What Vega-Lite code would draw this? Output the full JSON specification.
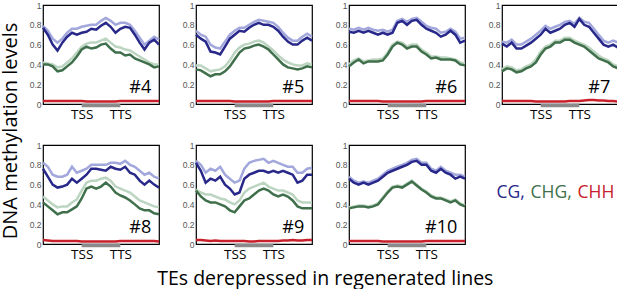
{
"$schema":"https://vega.github.io/schema/vega-lite/v6.json",
"padding":{"left":0,"top":0,"right":0,"bottom":0},
"background":"white",
"title":{"text":"TEs derepressed in regenerated lines","orient":"bottom","anchor":"middle","fontSize":19.5,"font":"Open Sans","fontWeight":"normal","offset":9,"dx":13,"color":"black"},
"data":{"values":[
{"p":"#4","x":0,"CG":0.77,"CGl":0.79,"CHG":0.40,"CHGl":0.42,"CHH":0.03},
{"p":"#4","x":2.5,"CG":0.70,"CGl":0.74,"CHG":0.40,"CHGl":0.41,"CHH":0.03},
{"p":"#4","x":5,"CG":0.60,"CGl":0.66,"CHG":0.38,"CHGl":0.40,"CHH":0.03},
{"p":"#4","x":7.5,"CG":0.54,"CGl":0.62,"CHG":0.33,"CHGl":0.37,"CHH":0.03},
{"p":"#4","x":10,"CG":0.62,"CGl":0.66,"CHG":0.34,"CHGl":0.38,"CHH":0.03},
{"p":"#4","x":12.5,"CG":0.68,"CGl":0.72,"CHG":0.38,"CHGl":0.42,"CHH":0.03},
{"p":"#4","x":15,"CG":0.72,"CGl":0.76,"CHG":0.42,"CHGl":0.46,"CHH":0.03},
{"p":"#4","x":17.5,"CG":0.70,"CGl":0.76,"CHG":0.48,"CHGl":0.52,"CHH":0.03},
{"p":"#4","x":20,"CG":0.72,"CGl":0.78,"CHG":0.55,"CHGl":0.58,"CHH":0.03},
{"p":"#4","x":22.5,"CG":0.73,"CGl":0.79,"CHG":0.58,"CHGl":0.61,"CHH":0.025},
{"p":"#4","x":25,"CG":0.76,"CGl":0.80,"CHG":0.56,"CHGl":0.62,"CHH":0.025},
{"p":"#4","x":27.5,"CG":0.75,"CGl":0.80,"CHG":0.57,"CHGl":0.62,"CHH":0.025},
{"p":"#4","x":30,"CG":0.79,"CGl":0.84,"CHG":0.60,"CHGl":0.64,"CHH":0.025},
{"p":"#4","x":32.5,"CG":0.82,"CGl":0.87,"CHG":0.61,"CHGl":0.66,"CHH":0.025},
{"p":"#4","x":35,"CG":0.78,"CGl":0.84,"CHG":0.56,"CHGl":0.62,"CHH":0.025},
{"p":"#4","x":37.5,"CG":0.72,"CGl":0.80,"CHG":0.52,"CHGl":0.58,"CHH":0.025},
{"p":"#4","x":40,"CG":0.76,"CGl":0.82,"CHG":0.52,"CHGl":0.57,"CHH":0.03},
{"p":"#4","x":42.5,"CG":0.78,"CGl":0.82,"CHG":0.49,"CHGl":0.55,"CHH":0.03},
{"p":"#4","x":45,"CG":0.77,"CGl":0.80,"CHG":0.50,"CHGl":0.54,"CHH":0.03},
{"p":"#4","x":47.5,"CG":0.70,"CGl":0.74,"CHG":0.46,"CHGl":0.51,"CHH":0.03},
{"p":"#4","x":50,"CG":0.62,"CGl":0.67,"CHG":0.44,"CHGl":0.48,"CHH":0.03},
{"p":"#4","x":52.5,"CG":0.55,"CGl":0.60,"CHG":0.42,"CHGl":0.45,"CHH":0.03},
{"p":"#4","x":55,"CG":0.62,"CGl":0.64,"CHG":0.40,"CHGl":0.42,"CHH":0.03},
{"p":"#4","x":57.5,"CG":0.65,"CGl":0.68,"CHG":0.37,"CHGl":0.40,"CHH":0.03},
{"p":"#4","x":60,"CG":0.60,"CGl":0.65,"CHG":0.38,"CHGl":0.40,"CHH":0.03},
{"p":"#5","x":0,"CG":0.70,"CGl":0.74,"CHG":0.35,"CHGl":0.39,"CHH":0.03},
{"p":"#5","x":2.5,"CG":0.66,"CGl":0.70,"CHG":0.34,"CHGl":0.39,"CHH":0.03},
{"p":"#5","x":5,"CG":0.63,"CGl":0.68,"CHG":0.31,"CHGl":0.36,"CHH":0.03},
{"p":"#5","x":7.5,"CG":0.53,"CGl":0.60,"CHG":0.28,"CHGl":0.33,"CHH":0.03},
{"p":"#5","x":10,"CG":0.52,"CGl":0.57,"CHG":0.30,"CHGl":0.34,"CHH":0.03},
{"p":"#5","x":12.5,"CG":0.50,"CGl":0.56,"CHG":0.30,"CHGl":0.35,"CHH":0.03},
{"p":"#5","x":15,"CG":0.58,"CGl":0.63,"CHG":0.33,"CHGl":0.38,"CHH":0.03},
{"p":"#5","x":17.5,"CG":0.66,"CGl":0.70,"CHG":0.38,"CHGl":0.44,"CHH":0.03},
{"p":"#5","x":20,"CG":0.70,"CGl":0.74,"CHG":0.45,"CHGl":0.52,"CHH":0.025},
{"p":"#5","x":22.5,"CG":0.74,"CGl":0.77,"CHG":0.52,"CHGl":0.57,"CHH":0.025},
{"p":"#5","x":25,"CG":0.73,"CGl":0.77,"CHG":0.56,"CHGl":0.60,"CHH":0.025},
{"p":"#5","x":27.5,"CG":0.77,"CGl":0.80,"CHG":0.57,"CHGl":0.61,"CHH":0.025},
{"p":"#5","x":30,"CG":0.80,"CGl":0.83,"CHG":0.59,"CHGl":0.63,"CHH":0.025},
{"p":"#5","x":32.5,"CG":0.82,"CGl":0.85,"CHG":0.60,"CHGl":0.64,"CHH":0.025},
{"p":"#5","x":35,"CG":0.80,"CGl":0.84,"CHG":0.58,"CHGl":0.62,"CHH":0.025},
{"p":"#5","x":37.5,"CG":0.80,"CGl":0.83,"CHG":0.55,"CHGl":0.58,"CHH":0.025},
{"p":"#5","x":40,"CG":0.78,"CGl":0.82,"CHG":0.50,"CHGl":0.54,"CHH":0.03},
{"p":"#5","x":42.5,"CG":0.74,"CGl":0.78,"CHG":0.45,"CHGl":0.49,"CHH":0.03},
{"p":"#5","x":45,"CG":0.68,"CGl":0.72,"CHG":0.40,"CHGl":0.45,"CHH":0.03},
{"p":"#5","x":47.5,"CG":0.63,"CGl":0.67,"CHG":0.37,"CHGl":0.42,"CHH":0.03},
{"p":"#5","x":50,"CG":0.60,"CGl":0.64,"CHG":0.36,"CHGl":0.40,"CHH":0.03},
{"p":"#5","x":52.5,"CG":0.60,"CGl":0.64,"CHG":0.35,"CHGl":0.39,"CHH":0.03},
{"p":"#5","x":55,"CG":0.64,"CGl":0.68,"CHG":0.36,"CHGl":0.39,"CHH":0.03},
{"p":"#5","x":57.5,"CG":0.67,"CGl":0.71,"CHG":0.38,"CHGl":0.41,"CHH":0.03},
{"p":"#5","x":60,"CG":0.64,"CGl":0.68,"CHG":0.37,"CHGl":0.40,"CHH":0.03},
{"p":"#6","x":0,"CG":0.73,"CGl":0.76,"CHG":0.38,"CHGl":0.40,"CHH":0.03},
{"p":"#6","x":2.5,"CG":0.72,"CGl":0.75,"CHG":0.42,"CHGl":0.44,"CHH":0.03},
{"p":"#6","x":5,"CG":0.74,"CGl":0.77,"CHG":0.45,"CHGl":0.46,"CHH":0.03},
{"p":"#6","x":7.5,"CG":0.72,"CGl":0.75,"CHG":0.41,"CHGl":0.43,"CHH":0.03},
{"p":"#6","x":10,"CG":0.74,"CGl":0.77,"CHG":0.43,"CHGl":0.44,"CHH":0.03},
{"p":"#6","x":12.5,"CG":0.72,"CGl":0.75,"CHG":0.43,"CHGl":0.45,"CHH":0.03},
{"p":"#6","x":15,"CG":0.70,"CGl":0.74,"CHG":0.43,"CHGl":0.45,"CHH":0.03},
{"p":"#6","x":17.5,"CG":0.72,"CGl":0.75,"CHG":0.44,"CHGl":0.46,"CHH":0.025},
{"p":"#6","x":20,"CG":0.70,"CGl":0.73,"CHG":0.50,"CHGl":0.52,"CHH":0.025},
{"p":"#6","x":22.5,"CG":0.72,"CGl":0.75,"CHG":0.58,"CHGl":0.60,"CHH":0.025},
{"p":"#6","x":25,"CG":0.82,"CGl":0.84,"CHG":0.62,"CHGl":0.63,"CHH":0.025},
{"p":"#6","x":27.5,"CG":0.84,"CGl":0.86,"CHG":0.60,"CHGl":0.62,"CHH":0.025},
{"p":"#6","x":30,"CG":0.80,"CGl":0.83,"CHG":0.56,"CHGl":0.58,"CHH":0.025},
{"p":"#6","x":32.5,"CG":0.84,"CGl":0.86,"CHG":0.58,"CHGl":0.60,"CHH":0.025},
{"p":"#6","x":35,"CG":0.85,"CGl":0.87,"CHG":0.58,"CHGl":0.60,"CHH":0.025},
{"p":"#6","x":37.5,"CG":0.80,"CGl":0.83,"CHG":0.53,"CHGl":0.55,"CHH":0.025},
{"p":"#6","x":40,"CG":0.76,"CGl":0.79,"CHG":0.50,"CHGl":0.52,"CHH":0.03},
{"p":"#6","x":42.5,"CG":0.74,"CGl":0.77,"CHG":0.46,"CHGl":0.48,"CHH":0.03},
{"p":"#6","x":45,"CG":0.72,"CGl":0.76,"CHG":0.47,"CHGl":0.48,"CHH":0.03},
{"p":"#6","x":47.5,"CG":0.68,"CGl":0.72,"CHG":0.45,"CHGl":0.47,"CHH":0.03},
{"p":"#6","x":50,"CG":0.70,"CGl":0.73,"CHG":0.45,"CHGl":0.47,"CHH":0.03},
{"p":"#6","x":52.5,"CG":0.74,"CGl":0.76,"CHG":0.45,"CHGl":0.46,"CHH":0.03},
{"p":"#6","x":55,"CG":0.70,"CGl":0.73,"CHG":0.44,"CHGl":0.45,"CHH":0.03},
{"p":"#6","x":57.5,"CG":0.62,"CGl":0.66,"CHG":0.40,"CHGl":0.42,"CHH":0.03},
{"p":"#6","x":60,"CG":0.64,"CGl":0.67,"CHG":0.39,"CHGl":0.41,"CHH":0.03},
{"p":"#7","x":0,"CG":0.61,"CGl":0.63,"CHG":0.33,"CHGl":0.35,"CHH":0.03},
{"p":"#7","x":2.5,"CG":0.58,"CGl":0.62,"CHG":0.36,"CHGl":0.38,"CHH":0.03},
{"p":"#7","x":5,"CG":0.62,"CGl":0.65,"CHG":0.35,"CHGl":0.37,"CHH":0.03},
{"p":"#7","x":7.5,"CG":0.56,"CGl":0.60,"CHG":0.32,"CHGl":0.34,"CHH":0.03},
{"p":"#7","x":10,"CG":0.56,"CGl":0.60,"CHG":0.33,"CHGl":0.35,"CHH":0.03},
{"p":"#7","x":12.5,"CG":0.59,"CGl":0.63,"CHG":0.36,"CHGl":0.38,"CHH":0.03},
{"p":"#7","x":15,"CG":0.62,"CGl":0.66,"CHG":0.38,"CHGl":0.40,"CHH":0.03},
{"p":"#7","x":17.5,"CG":0.66,"CGl":0.70,"CHG":0.42,"CHGl":0.45,"CHH":0.025},
{"p":"#7","x":20,"CG":0.70,"CGl":0.74,"CHG":0.50,"CHGl":0.53,"CHH":0.025},
{"p":"#7","x":22.5,"CG":0.76,"CGl":0.79,"CHG":0.56,"CHGl":0.58,"CHH":0.025},
{"p":"#7","x":25,"CG":0.72,"CGl":0.76,"CHG":0.58,"CHGl":0.60,"CHH":0.025},
{"p":"#7","x":27.5,"CG":0.74,"CGl":0.78,"CHG":0.62,"CHGl":0.64,"CHH":0.025},
{"p":"#7","x":30,"CG":0.76,"CGl":0.80,"CHG":0.62,"CHGl":0.64,"CHH":0.025},
{"p":"#7","x":32.5,"CG":0.80,"CGl":0.83,"CHG":0.65,"CHGl":0.67,"CHH":0.025},
{"p":"#7","x":35,"CG":0.82,"CGl":0.84,"CHG":0.65,"CHGl":0.67,"CHH":0.03},
{"p":"#7","x":37.5,"CG":0.78,"CGl":0.81,"CHG":0.62,"CHGl":0.64,"CHH":0.03},
{"p":"#7","x":40,"CG":0.86,"CGl":0.87,"CHG":0.60,"CHGl":0.62,"CHH":0.03},
{"p":"#7","x":42.5,"CG":0.80,"CGl":0.83,"CHG":0.58,"CHGl":0.60,"CHH":0.035},
{"p":"#7","x":45,"CG":0.78,"CGl":0.82,"CHG":0.54,"CHGl":0.57,"CHH":0.04},
{"p":"#7","x":47.5,"CG":0.72,"CGl":0.76,"CHG":0.50,"CHGl":0.53,"CHH":0.04},
{"p":"#7","x":50,"CG":0.66,"CGl":0.70,"CHG":0.46,"CHGl":0.49,"CHH":0.035},
{"p":"#7","x":52.5,"CG":0.60,"CGl":0.64,"CHG":0.44,"CHGl":0.46,"CHH":0.035},
{"p":"#7","x":55,"CG":0.58,"CGl":0.62,"CHG":0.42,"CHGl":0.44,"CHH":0.03},
{"p":"#7","x":57.5,"CG":0.60,"CGl":0.64,"CHG":0.38,"CHGl":0.40,"CHH":0.03},
{"p":"#7","x":60,"CG":0.57,"CGl":0.62,"CHG":0.36,"CHGl":0.38,"CHH":0.025},
{"p":"#8","x":0,"CG":0.76,"CGl":0.82,"CHG":0.42,"CHGl":0.48,"CHH":0.04},
{"p":"#8","x":2.5,"CG":0.68,"CGl":0.78,"CHG":0.38,"CHGl":0.44,"CHH":0.035},
{"p":"#8","x":5,"CG":0.60,"CGl":0.70,"CHG":0.34,"CHGl":0.40,"CHH":0.03},
{"p":"#8","x":7.5,"CG":0.57,"CGl":0.68,"CHG":0.30,"CHGl":0.37,"CHH":0.03},
{"p":"#8","x":10,"CG":0.58,"CGl":0.68,"CHG":0.32,"CHGl":0.38,"CHH":0.03},
{"p":"#8","x":12.5,"CG":0.60,"CGl":0.70,"CHG":0.32,"CHGl":0.38,"CHH":0.03},
{"p":"#8","x":15,"CG":0.66,"CGl":0.78,"CHG":0.35,"CHGl":0.42,"CHH":0.03},
{"p":"#8","x":17.5,"CG":0.62,"CGl":0.72,"CHG":0.38,"CHGl":0.45,"CHH":0.03},
{"p":"#8","x":20,"CG":0.66,"CGl":0.74,"CHG":0.46,"CHGl":0.54,"CHH":0.025},
{"p":"#8","x":22.5,"CG":0.70,"CGl":0.76,"CHG":0.56,"CHGl":0.62,"CHH":0.025},
{"p":"#8","x":25,"CG":0.76,"CGl":0.80,"CHG":0.58,"CHGl":0.64,"CHH":0.025},
{"p":"#8","x":27.5,"CG":0.76,"CGl":0.80,"CHG":0.56,"CHGl":0.64,"CHH":0.025},
{"p":"#8","x":30,"CG":0.75,"CGl":0.80,"CHG":0.58,"CHGl":0.66,"CHH":0.025},
{"p":"#8","x":32.5,"CG":0.74,"CGl":0.80,"CHG":0.62,"CHGl":0.67,"CHH":0.025},
{"p":"#8","x":35,"CG":0.78,"CGl":0.82,"CHG":0.58,"CHGl":0.64,"CHH":0.025},
{"p":"#8","x":37.5,"CG":0.76,"CGl":0.82,"CHG":0.52,"CHGl":0.58,"CHH":0.025},
{"p":"#8","x":40,"CG":0.75,"CGl":0.81,"CHG":0.49,"CHGl":0.56,"CHH":0.03},
{"p":"#8","x":42.5,"CG":0.78,"CGl":0.84,"CHG":0.47,"CHGl":0.54,"CHH":0.03},
{"p":"#8","x":45,"CG":0.72,"CGl":0.80,"CHG":0.44,"CHGl":0.52,"CHH":0.03},
{"p":"#8","x":47.5,"CG":0.70,"CGl":0.78,"CHG":0.40,"CHGl":0.48,"CHH":0.03},
{"p":"#8","x":50,"CG":0.64,"CGl":0.74,"CHG":0.36,"CHGl":0.44,"CHH":0.03},
{"p":"#8","x":52.5,"CG":0.60,"CGl":0.70,"CHG":0.34,"CHGl":0.42,"CHH":0.03},
{"p":"#8","x":55,"CG":0.64,"CGl":0.72,"CHG":0.34,"CHGl":0.40,"CHH":0.03},
{"p":"#8","x":57.5,"CG":0.60,"CGl":0.68,"CHG":0.31,"CHGl":0.38,"CHH":0.03},
{"p":"#8","x":60,"CG":0.57,"CGl":0.66,"CHG":0.30,"CHGl":0.37,"CHH":0.025},
{"p":"#9","x":0,"CG":0.82,"CGl":0.84,"CHG":0.54,"CHGl":0.55,"CHH":0.04},
{"p":"#9","x":2.5,"CG":0.74,"CGl":0.80,"CHG":0.48,"CHGl":0.52,"CHH":0.04},
{"p":"#9","x":5,"CG":0.62,"CGl":0.72,"CHG":0.44,"CHGl":0.50,"CHH":0.035},
{"p":"#9","x":7.5,"CG":0.66,"CGl":0.76,"CHG":0.42,"CHGl":0.50,"CHH":0.03},
{"p":"#9","x":10,"CG":0.64,"CGl":0.74,"CHG":0.42,"CHGl":0.48,"CHH":0.035},
{"p":"#9","x":12.5,"CG":0.68,"CGl":0.78,"CHG":0.40,"CHGl":0.46,"CHH":0.03},
{"p":"#9","x":15,"CG":0.60,"CGl":0.70,"CHG":0.38,"CHGl":0.45,"CHH":0.03},
{"p":"#9","x":17.5,"CG":0.56,"CGl":0.66,"CHG":0.34,"CHGl":0.42,"CHH":0.03},
{"p":"#9","x":20,"CG":0.50,"CGl":0.62,"CHG":0.32,"CHGl":0.40,"CHH":0.03},
{"p":"#9","x":22.5,"CG":0.52,"CGl":0.64,"CHG":0.38,"CHGl":0.44,"CHH":0.03},
{"p":"#9","x":25,"CG":0.66,"CGl":0.76,"CHG":0.44,"CHGl":0.52,"CHH":0.03},
{"p":"#9","x":27.5,"CG":0.70,"CGl":0.82,"CHG":0.46,"CHGl":0.56,"CHH":0.025},
{"p":"#9","x":30,"CG":0.72,"CGl":0.84,"CHG":0.50,"CHGl":0.58,"CHH":0.025},
{"p":"#9","x":32.5,"CG":0.74,"CGl":0.85,"CHG":0.54,"CHGl":0.60,"CHH":0.03},
{"p":"#9","x":35,"CG":0.74,"CGl":0.86,"CHG":0.56,"CHGl":0.62,"CHH":0.03},
{"p":"#9","x":37.5,"CG":0.72,"CGl":0.82,"CHG":0.54,"CHGl":0.58,"CHH":0.03},
{"p":"#9","x":40,"CG":0.74,"CGl":0.84,"CHG":0.50,"CHGl":0.56,"CHH":0.03},
{"p":"#9","x":42.5,"CG":0.72,"CGl":0.82,"CHG":0.48,"CHGl":0.54,"CHH":0.03},
{"p":"#9","x":45,"CG":0.74,"CGl":0.80,"CHG":0.50,"CHGl":0.54,"CHH":0.035},
{"p":"#9","x":47.5,"CG":0.72,"CGl":0.78,"CHG":0.48,"CHGl":0.52,"CHH":0.035},
{"p":"#9","x":50,"CG":0.70,"CGl":0.78,"CHG":0.44,"CHGl":0.50,"CHH":0.04},
{"p":"#9","x":52.5,"CG":0.62,"CGl":0.72,"CHG":0.38,"CHGl":0.44,"CHH":0.035},
{"p":"#9","x":55,"CG":0.64,"CGl":0.72,"CHG":0.36,"CHGl":0.42,"CHH":0.035},
{"p":"#9","x":57.5,"CG":0.70,"CGl":0.76,"CHG":0.36,"CHGl":0.42,"CHH":0.04},
{"p":"#9","x":60,"CG":0.70,"CGl":0.77,"CHG":0.36,"CHGl":0.42,"CHH":0.04},
{"p":"#10","x":0,"CG":0.66,"CGl":0.68,"CHG":0.36,"CHGl":0.37,"CHH":0.03},
{"p":"#10","x":2.5,"CG":0.62,"CGl":0.64,"CHG":0.37,"CHGl":0.38,"CHH":0.03},
{"p":"#10","x":5,"CG":0.60,"CGl":0.62,"CHG":0.38,"CHGl":0.39,"CHH":0.03},
{"p":"#10","x":7.5,"CG":0.62,"CGl":0.63,"CHG":0.38,"CHGl":0.39,"CHH":0.03},
{"p":"#10","x":10,"CG":0.60,"CGl":0.62,"CHG":0.37,"CHGl":0.38,"CHH":0.03},
{"p":"#10","x":12.5,"CG":0.62,"CGl":0.64,"CHG":0.38,"CHGl":0.39,"CHH":0.03},
{"p":"#10","x":15,"CG":0.64,"CGl":0.66,"CHG":0.40,"CHGl":0.41,"CHH":0.03},
{"p":"#10","x":17.5,"CG":0.68,"CGl":0.70,"CHG":0.46,"CHGl":0.47,"CHH":0.025},
{"p":"#10","x":20,"CG":0.72,"CGl":0.74,"CHG":0.52,"CHGl":0.53,"CHH":0.025},
{"p":"#10","x":22.5,"CG":0.74,"CGl":0.76,"CHG":0.57,"CHGl":0.58,"CHH":0.025},
{"p":"#10","x":25,"CG":0.76,"CGl":0.78,"CHG":0.58,"CHGl":0.59,"CHH":0.025},
{"p":"#10","x":27.5,"CG":0.78,"CGl":0.80,"CHG":0.57,"CHGl":0.58,"CHH":0.025},
{"p":"#10","x":30,"CG":0.80,"CGl":0.82,"CHG":0.60,"CHGl":0.61,"CHH":0.025},
{"p":"#10","x":32.5,"CG":0.83,"CGl":0.85,"CHG":0.63,"CHGl":0.64,"CHH":0.025},
{"p":"#10","x":35,"CG":0.84,"CGl":0.86,"CHG":0.59,"CHGl":0.60,"CHH":0.025},
{"p":"#10","x":37.5,"CG":0.80,"CGl":0.82,"CHG":0.55,"CHGl":0.56,"CHH":0.025},
{"p":"#10","x":40,"CG":0.80,"CGl":0.82,"CHG":0.52,"CHGl":0.53,"CHH":0.03},
{"p":"#10","x":42.5,"CG":0.74,"CGl":0.76,"CHG":0.48,"CHGl":0.49,"CHH":0.03},
{"p":"#10","x":45,"CG":0.72,"CGl":0.74,"CHG":0.46,"CHGl":0.47,"CHH":0.03},
{"p":"#10","x":47.5,"CG":0.76,"CGl":0.78,"CHG":0.46,"CHGl":0.47,"CHH":0.03},
{"p":"#10","x":50,"CG":0.72,"CGl":0.74,"CHG":0.44,"CHGl":0.45,"CHH":0.03},
{"p":"#10","x":52.5,"CG":0.70,"CGl":0.72,"CHG":0.42,"CHGl":0.43,"CHH":0.03},
{"p":"#10","x":55,"CG":0.66,"CGl":0.70,"CHG":0.44,"CHGl":0.45,"CHH":0.03},
{"p":"#10","x":57.5,"CG":0.68,"CGl":0.70,"CHG":0.40,"CHGl":0.41,"CHH":0.03},
{"p":"#10","x":60,"CG":0.66,"CGl":0.68,"CHG":0.38,"CHGl":0.39,"CHH":0.03}
]},
"facet":{"field":"p","type":"nominal","sort":["#4","#5","#6","#7","#8","#9","#10"],"title":"DNA methylation levels","header":{"labels":false,"labelFontSize":0,"labelPadding":0,"titleOrient":"left","titleFontSize":20,"titleFont":"Open Sans","titleFontWeight":"normal","titlePadding":7,"titleColor":"black"}},
"columns":4,
"spacing":{"row":18,"column":16},
"resolve":{"axis":{"x":"independent","y":"independent"}},
"spec":{
"width":116,"height":99,
"layer":[
{"transform":[{"fold":["CGl","CHGl"],"as":["s","v"]}],
 "mark":{"type":"line","strokeWidth":2.5},
 "encoding":{
  "x":{"field":"x","type":"quantitative","scale":{"domain":[0,60],"nice":false},"axis":{"values":[20,40],"tickCount":10,"labelExpr":"datum.value == 20 ? 'TSS' : 'TTS'","ticks":false,"domain":false,"grid":false,"labelFontSize":13.5,"labelFont":"Open Sans","labelColor":"black","labelPadding":3,"labelOverlap":false,"title":null}},
  "y":{"field":"v","type":"quantitative","scale":{"domain":[0,1],"nice":false},"axis":{"values":[0,0.2,0.4,0.6,0.8,1],"tickCount":10,"format":"~g","ticks":false,"domain":false,"grid":false,"labelFontSize":8.5,"labelColor":"#555","labelPadding":2,"labelOverlap":false,"title":null}},
  "stroke":{"field":"s","type":"nominal","scale":{"domain":["CGl","CHGl"],"range":["#a2a7dc","#bcd5c1"]},"legend":null}
 }},
{"transform":[{"fold":["CG","CHG","CHH"],"as":["s","v"]}],
 "mark":{"type":"line","strokeWidth":2.5},
 "encoding":{
  "x":{"field":"x","type":"quantitative"},
  "y":{"field":"v","type":"quantitative"},
  "color":{"field":"s","type":"nominal","scale":{"domain":["CG","CHG","CHH"],"range":["#28288a","#40704b","#c8202a"]},
   "legend":{"orient":"none","legendX":455,"legendY":179,"direction":"horizontal","gridAlign":"none","title":null,"symbolType":"circle","symbolSize":0,"symbolStrokeWidth":0,"symbolOpacity":0,"symbolOffset":0,"labelOffset":-19,"columnPadding":5,"labelFontSize":17.5,"labelFont":"Open Sans","labelExpr":"datum.label == 'CHH' ? datum.label : datum.label + ','","encode":{"labels":{"update":{"fill":{"scale":"color","field":"value"}}}}}}
 }},
{"transform":[{"filter":"datum.x == 0"}],
 "mark":{"type":"rule","strokeWidth":3.5,"color":"#8a8a8a"},
 "encoding":{"x":{"datum":20},"x2":{"datum":40},"y":{"datum":-0.015}}},
{"transform":[{"filter":"datum.x == 0"}],
 "mark":{"type":"text","align":"right","baseline":"middle","fontSize":18,"font":"Open Sans","color":"black"},
 "encoding":{"x":{"datum":56},"y":{"datum":0.16},"text":{"field":"p"}}}
]
},
"config":{"view":{"stroke":"black","strokeWidth":1.2},"header":{"labels":false},"axis":{"labelOverlap":false}}
}
